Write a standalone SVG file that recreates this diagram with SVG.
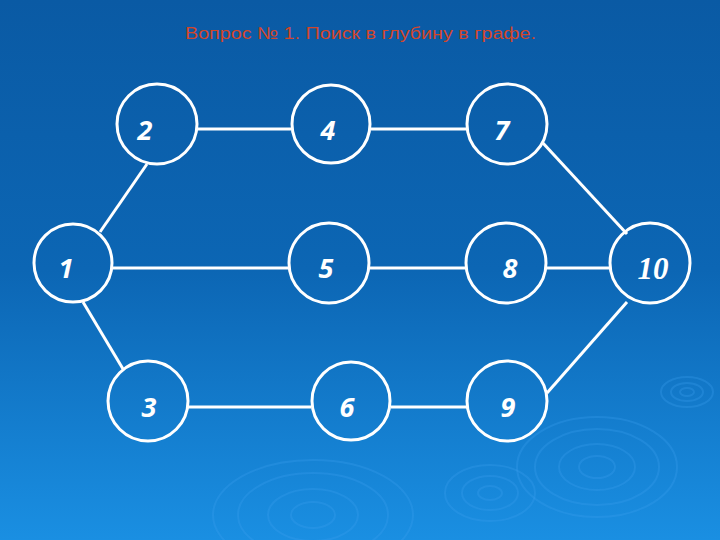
<svg xmlns="http://www.w3.org/2000/svg" width="720" height="540" viewBox="0 0 720 540">
<defs>
<linearGradient id="bg" x1="0" y1="0" x2="0" y2="1">
<stop offset="0" stop-color="#0a5aa4"/>
<stop offset="0.5" stop-color="#0c66b4"/>
<stop offset="1" stop-color="#1a8fe2"/>
</linearGradient>
<style>
.node circle{fill:none;stroke:#ffffff;stroke-width:3}
.node text{fill:#ffffff;font-family:"Open Sans","DejaVu Sans",sans-serif;font-style:italic;font-weight:700;font-size:27px;text-anchor:middle}
.node text.serif{font-family:"Liberation Serif","DejaVu Serif",serif;font-weight:bold;font-size:31px}
#connectors line{stroke:#ffffff;stroke-width:3}
.ripple ellipse{fill:none;stroke:#3aa0f0;stroke-opacity:0.3;stroke-width:2}
.title{fill:#d2462a;font-family:"Liberation Sans",Arial,sans-serif;font-size:17px}
</style>
</defs>
<rect width="720" height="540" fill="url(#bg)"/>
<g class="ripple">
<ellipse cx="597" cy="467" rx="80" ry="50"/>
<ellipse cx="597" cy="467" rx="62" ry="38"/>
<ellipse cx="597" cy="467" rx="38" ry="23"/>
<ellipse cx="597" cy="467" rx="18" ry="11"/>
<ellipse cx="687" cy="392" rx="26" ry="15"/>
<ellipse cx="687" cy="392" rx="16" ry="9"/>
<ellipse cx="687" cy="392" rx="7" ry="4"/>
<ellipse cx="490" cy="493" rx="45" ry="28"/>
<ellipse cx="490" cy="493" rx="28" ry="17"/>
<ellipse cx="490" cy="493" rx="12" ry="7"/>
<ellipse cx="313" cy="515" rx="100" ry="55"/>
<ellipse cx="313" cy="515" rx="75" ry="42"/>
<ellipse cx="313" cy="515" rx="45" ry="26"/>
<ellipse cx="313" cy="515" rx="22" ry="13"/>
</g>
<text class="title" x="185" y="39" textLength="351" lengthAdjust="spacingAndGlyphs">Вопрос № 1. Поиск в глубину в графе.</text>
<g id="connectors">
<line x1="197" y1="129" x2="291" y2="129"/>
<line x1="371" y1="129" x2="467" y2="129"/>
<line x1="112" y1="268" x2="289" y2="268"/>
<line x1="369" y1="268" x2="466" y2="268"/>
<line x1="546" y1="268" x2="610" y2="268"/>
<line x1="188" y1="407" x2="311" y2="407"/>
<line x1="391" y1="407" x2="467" y2="407"/>
<line x1="100" y1="232" x2="147" y2="164"/>
<line x1="83" y1="302" x2="123" y2="369"/>
<line x1="542" y1="142" x2="627" y2="234"/>
<line x1="547" y1="393" x2="627" y2="302"/>
</g>
<g id="node1" class="node"><circle cx="73" cy="263" r="39"/><text x="66" y="278">1</text></g>
<g id="node2" class="node"><circle cx="157" cy="124" r="40"/><text x="145" y="140">2</text></g>
<g id="node3" class="node"><circle cx="148" cy="401" r="40"/><text x="149" y="417">3</text></g>
<g id="node4" class="node"><circle cx="331" cy="124" r="39"/><text x="328" y="140">4</text></g>
<g id="node5" class="node"><circle cx="329" cy="263" r="40"/><text x="326" y="278">5</text></g>
<g id="node6" class="node"><circle cx="351" cy="401" r="39"/><text x="347" y="417">6</text></g>
<g id="node7" class="node"><circle cx="507" cy="124" r="40"/><text x="502" y="140">7</text></g>
<g id="node8" class="node"><circle cx="506" cy="263" r="40"/><text x="510" y="278">8</text></g>
<g id="node9" class="node"><circle cx="507" cy="401" r="40"/><text x="508" y="417">9</text></g>
<g id="node10" class="node"><circle cx="650" cy="263" r="40"/><text class="serif" x="653" y="279">10</text></g>
</svg>
